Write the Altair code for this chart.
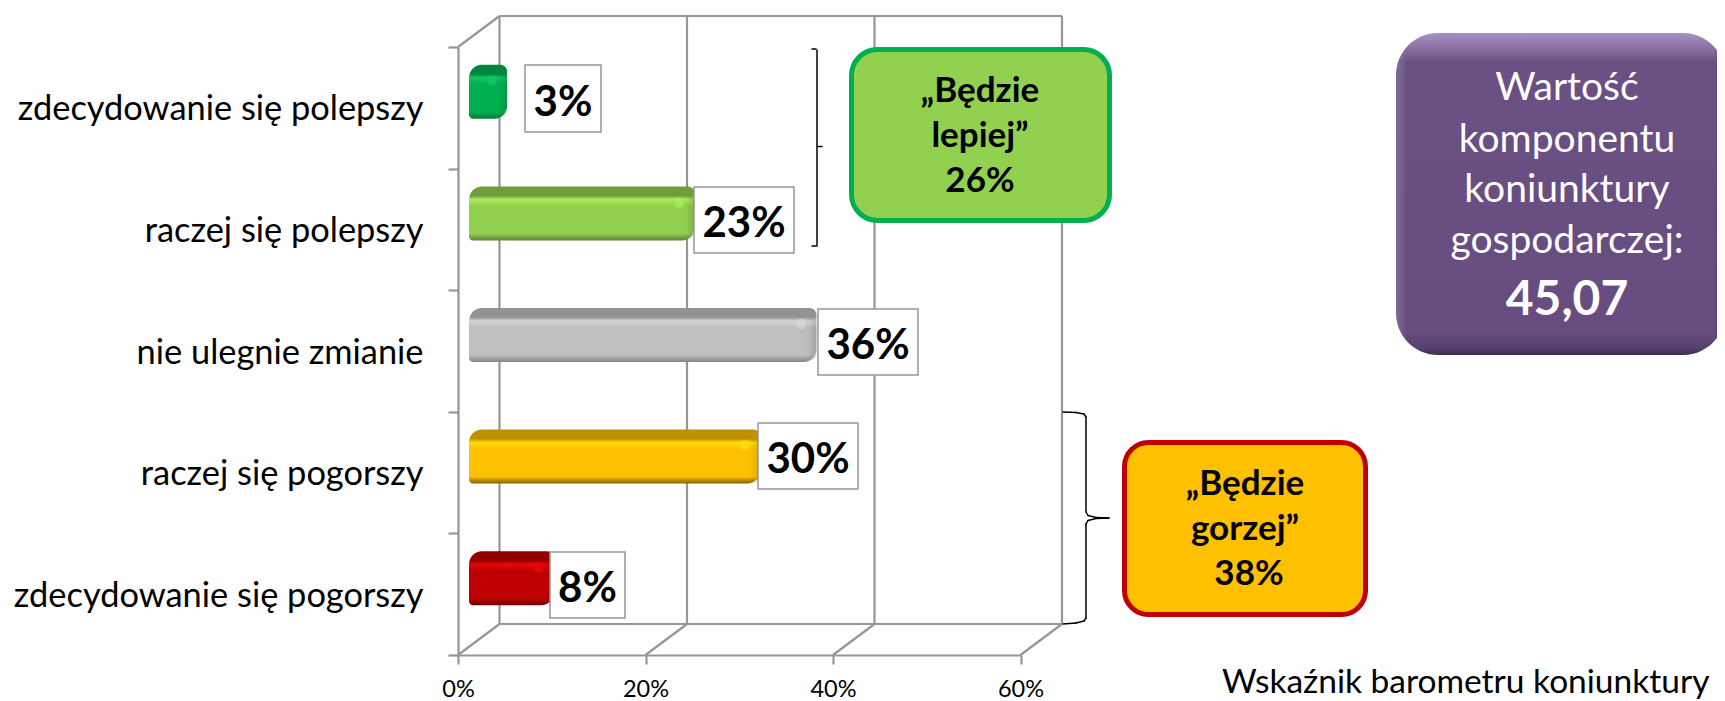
import altair as alt
import pandas as pd

categories = ["zdecydowanie się polepszy", "raczej się polepszy", "nie ulegnie zmianie",
              "raczej się pogorszy", "zdecydowanie się pogorszy"]
values = [3, 23, 36, 30, 8]
x_ticks = [0, 20, 40, 60]
green_lines = ["„Będzie", "lepiej”", "26%"]
orange_lines = ["„Będzie", "gorzej”", "38%"]
purple_lines = ["Wartość", "komponentu", "koniunktury", "gospodarczej:"]
purple_value = "45,07"
caption = "Wskaźnik barometru koniunktury"

# style: (top face, highlight, main, bottom edge)
bar_styles = [
    ("#00863C", "#12C463", "#00B050", "#007A36"),
    ("#6F9B3D", "#A8EC5C", "#92D050", "#5F8535"),
    ("#939393", "#D6D6D6", "#BFBFBF", "#858585"),
    ("#BF9000", "#FFDC0A", "#FFC000", "#806000"),
    ("#900000", "#E40808", "#C00000", "#700000"),
]
# layout of the value boxes, page px: left, right, top, bottom
label_boxes = [(525, 601, 65, 132), (694, 794, 187, 253), (818, 918, 309, 375),
               (758, 858, 423, 489), (550, 625, 552, 618)]

FONT = "Lato"
GRID = "#969696"
X0, Y0 = 458, 47
W, H = 562.5, 608
DEPTH = 41.5 / (W / 60)   # depth of the 3-D box, in % units
DEPTH_Y = 31

df = pd.DataFrame({"cat": categories, "v": values})
xs = alt.Scale(domain=[0, 60], nice=False, zero=False)
ys = alt.Scale(domain=categories, paddingInner=0, paddingOuter=0)
dummy = pd.DataFrame({"a": [1]})


def px(x):
    return x - X0


def py(y):
    return y - Y0


def frame(v1, v2, y1, y2):
    return alt.Chart(dummy).mark_rule(color=GRID, strokeWidth=2.2).encode(
        x=alt.X(datum=v1, scale=xs, title=None), x2=alt.X2(datum=v2),
        y=alt.value(y1), y2=alt.value(y2))


def seg(x1, y1, x2, y2, w=1.5):
    return alt.Chart(dummy).mark_rule(color="#000000", strokeWidth=w, strokeCap="round").encode(
        x=alt.value(px(x1)), x2=alt.value(px(x2)), y=alt.value(py(y1)), y2=alt.value(py(y2)))


def box(x1, x2, y1, y2, **kw):
    return alt.Chart(dummy).mark_rect(**kw).encode(
        x=alt.value(px(x1)), x2=alt.value(px(x2)), y=alt.value(py(y1)), y2=alt.value(py(y2)))


def txt(s, x, y, size, color="#000000", weight="normal", align="center"):
    return alt.Chart(dummy).mark_text(font=FONT, fontSize=size, fontWeight=weight, color=color,
                                      align=align, baseline="alphabetic").encode(
        x=alt.value(px(x)), y=alt.value(py(y)), text=alt.value(s))


def vgrad(stops):
    return {"gradient": "linear", "x1": 0, "x2": 0, "y1": 0, "y2": 1,
            "stops": [{"offset": o, "color": c} for o, c in stops]}


def hgrad(stops):
    return {"gradient": "linear", "x1": 0, "x2": 1, "y1": 0, "y2": 0,
            "stops": [{"offset": o, "color": c} for o, c in stops]}


layers = []
# axes
layers.append(alt.Chart(df).mark_bar(color="transparent").encode(
    x=alt.X("v:Q", scale=xs, title=None,
            axis=alt.Axis(values=x_ticks, labelExpr="datum.value + '%'", grid=False, tickSize=9,
                          tickColor=GRID, tickWidth=2.2, domainColor=GRID, domainWidth=2.2,
                          labelFont=FONT, labelFontSize=23.5, labelColor="#000000", labelPadding=13,
                          labelFlush=False, labelOverlap=False)),
    y=alt.Y("cat:N", scale=ys, title=None, sort=categories,
            axis=alt.Axis(tickBand="extent", tickSize=10, tickColor=GRID, tickWidth=2.2,
                          domainColor=GRID, domainWidth=2.2, labelFont=FONT, labelFontSize=34.4,
                          labelColor="#000000", labelPadding=25, labelLimit=500, labelOffset=2))))

# 3-D frame
for t in x_ticks:
    layers.append(frame(t + DEPTH, t + DEPTH, -DEPTH_Y, H - DEPTH_Y))
    layers.append(frame(t, t + DEPTH, H, H - DEPTH_Y))
layers.append(frame(DEPTH, 60 + DEPTH, -DEPTH_Y, -DEPTH_Y))
layers.append(frame(DEPTH, 60 + DEPTH, H - DEPTH_Y, H - DEPTH_Y))
layers.append(frame(0, DEPTH, 0, -DEPTH_Y))

# bars
for i, (cat, val) in enumerate(zip(categories, values)):
    top, hi, main, bottom = bar_styles[i]
    row = df[df.cat == cat]
    enc = dict(x=alt.X("v:Q", scale=xs, title=None),
               y=alt.Y("cat:N", scale=ys, sort=categories, title=None))
    enc_zero = alt.X2(datum=0)
    layers.append(alt.Chart(row).mark_bar(
        xOffset=21, x2Offset=11, size=54, yOffset=-16,
        cornerRadiusTopLeft=13, cornerRadiusBottomRight=13, cornerRadiusTopRight=7, cornerRadiusBottomLeft=4,
        color=vgrad([(0, top), (0.17, top), (0.24, hi), (0.36, main), (0.87, main), (1, bottom)])
    ).encode(x2=enc_zero, **enc))
    # right end shading
    layers.append(alt.Chart(row).mark_bar(
        xOffset=21, x2Offset=21 - 17, size=44, yOffset=-11,
        cornerRadiusBottomRight=13, cornerRadiusTopRight=4,
        color=hgrad([(0, "rgba(0,0,0,0)"), (0.5, "rgba(0,0,0,0.02)"), (1, "rgba(0,0,0,0.14)")])
    ).encode(x2=alt.X2("v:Q"), **enc))
    # highlight at the corner
    layers.append(alt.Chart(row).mark_bar(
        xOffset=10, x2Offset=1, size=10, yOffset=-27, cornerRadius=3, color=hi, opacity=0.8
    ).encode(x2=alt.X2("v:Q"), **enc))

# value boxes
for val, (l, r, t, b) in zip(values, label_boxes):
    layers.append(box(l, r, t, b, color="#FFFFFF", stroke=GRID, strokeWidth=1.5))
    layers.append(txt(f"{val}%", (l + r) / 2, b - 16, 42, weight="bold"))

# brackets
layers += [seg(812, 49, 816, 49), seg(817, 50, 817, 245), seg(817, 246, 812, 246), seg(817, 146.5, 822, 146.5)]
brace = [(1063, 412), (1076, 412.5), (1084, 414), (1086, 417), (1086, 512), (1088, 515.5), (1096, 517.5), (1109, 518),
         (1096, 518.5), (1088, 520.5), (1086, 524), (1086, 618), (1084, 621), (1076, 623), (1063, 624)]
for (a, b), (c, d) in zip(brace[:-1], brace[1:]):
    layers.append(seg(a, b, c, d))

# green box
layers.append(box(851.5, 1109.5, 49.5, 220.5, color="#92D050", stroke="#00B050", strokeWidth=5, cornerRadius=26))
for s, y in zip(green_lines, [102, 147, 192]):
    layers.append(txt(s, 980, y, 35, weight="bold"))

# orange box
layers.append(box(1124.5, 1365.5, 442.5, 614.5, color="#FFC000", stroke="#C00000", strokeWidth=5, cornerRadius=24))
for s, y, x in zip(orange_lines, [495, 540, 585], [1245, 1245, 1249]):
    layers.append(txt(s, x, y, 35, weight="bold"))

# purple box
layers.append(box(1396, 1725, 33, 355, cornerRadius=42,
                  color=vgrad([(0, "#A88FC2"), (0.025, "#9A80B3"), (0.09, "#6A5083"), (0.93, "#664C7F"),
                               (0.98, "#55406E"), (1, "#3C2C50")])))
layers.append(box(1396, 1725, 33, 355, cornerRadius=42,
                  color=hgrad([(0, "rgba(255,255,255,0.16)"), (0.035, "rgba(255,255,255,0)"),
                               (0.965, "rgba(0,0,0,0)"), (1, "rgba(0,0,0,0.2)")])))
for s, y in zip(purple_lines, [100, 152, 202, 253]):
    layers.append(txt(s, 1567, y, 39, color="#FFFFFF"))
layers.append(txt(purple_value, 1567, 315, 48, color="#FFFFFF", weight="bold"))

# caption
layers.append(txt(caption, 1222, 693, 33.5, align="left"))

chart = alt.layer(*layers).properties(
    width=W, height=H,
    autosize=alt.AutoSizeParams(type="none"),
    padding={"left": 450, "top": 39, "right": 696.5, "bottom": 46},
    background="#FFFFFF",
).configure_view(strokeWidth=0)

chart.save("out.html", embed_options={"renderer": "svg", "actions": False})
